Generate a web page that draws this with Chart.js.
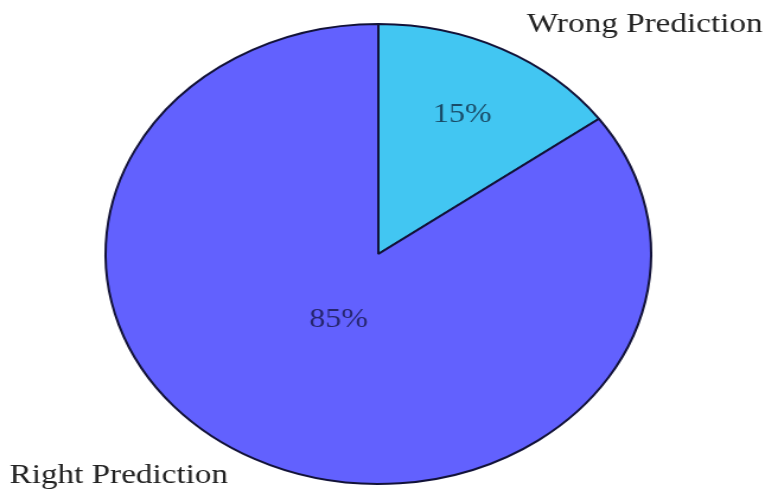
<!DOCTYPE html>
<html>
<head>
<meta charset="utf-8">
<script src="https://cdn.jsdelivr.net/npm/chart.js@4"></script>
<style>
  html, body { margin: 0; padding: 0; background: #fff; overflow: hidden; }
  #wrap { position: absolute; left: 0; top: 0; width: 645px; height: 495px;
          transform: scaleX(1.186); transform-origin: 0 0; }
</style>
</head>
<body>
<div id="wrap"><canvas id="pie" width="645" height="495"></canvas></div>
<script>
// Prediction accuracy split
const categories = ['Wrong Prediction', 'Right Prediction'];
const shares = [15, 85];
const sliceColors = ['#42C6F2', '#6261FE'];

// percent text inside each slice + category name outside
const sliceLabels = {
  id: 'sliceLabels',
  afterDatasetsDraw(chart, args, opts) {
    const ctx = chart.ctx;
    const meta = chart.getDatasetMeta(0);
    ctx.save();
    ctx.textAlign = 'center';
    ctx.textBaseline = 'middle';
    ctx.font = opts.font;
    meta.data.forEach((arc, i) => {
      const { x, y, startAngle, endAngle, outerRadius } = arc.getProps(['x', 'y', 'startAngle', 'endAngle', 'outerRadius'], true);
      const mid = (startAngle + endAngle) / 2;
      const r = outerRadius * opts.radius[i];
      ctx.fillStyle = opts.color;
      ctx.fillText(shares[i] + '%', x + Math.cos(mid) * r, y + Math.sin(mid) * r);
    });
    ctx.fillStyle = '#222';
    ctx.font = opts.nameFont;
    ctx.textBaseline = 'alphabetic';
    opts.names.forEach((n, i) => {
      ctx.textAlign = n.align;
      ctx.fillText(categories[i], n.x, n.y);
    });
    ctx.restore();
  }
};

new Chart(document.getElementById('pie'), {
  type: 'pie',
  data: {
    labels: categories,
    datasets: [{
      data: shares,
      backgroundColor: sliceColors,
      borderColor: '#121238',
      borderWidth: 2
    }]
  },
  options: {
    responsive: false,
    animation: false,
    layout: { padding: { left: 88, right: 95, top: 23, bottom: 10 } },
    plugins: {
      legend: { display: false },
      tooltip: { enabled: false },
      sliceLabels: {
        font: '27px "Liberation Serif", serif',
        nameFont: '28px "Liberation Serif", serif',
        color: 'rgba(0,0,20,0.62)',
        radius: [0.677, 0.32],
        names: [
          { x: 643, y: 32, align: 'right' },
          { x: 8, y: 483, align: 'left' }
        ]
      }
    }
  },
  plugins: [sliceLabels]
});
</script>
</body>
</html>
